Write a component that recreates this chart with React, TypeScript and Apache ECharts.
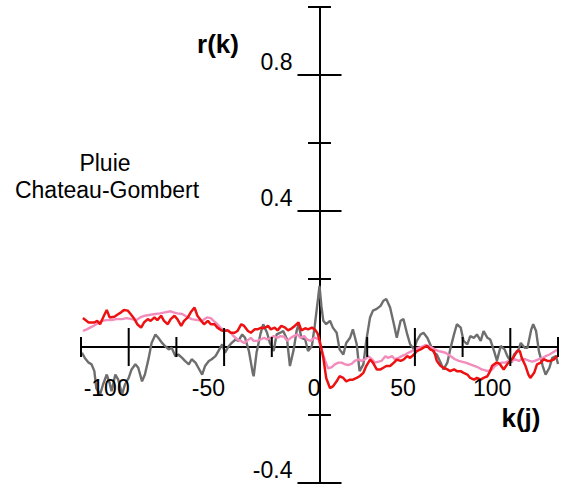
import React, { useEffect, useRef } from 'react';
import * as echarts from 'echarts';

const FONT = '"Liberation Sans", Arial, sans-serif';

// Axis ranges and ticks
const lagMin = -125;
const lagMax = 125;
const corrMin = -0.4;
const corrMax = 1.0;
const xTickLabels = [-100, -50, 0, 50, 100];
const yTickLabels = [0.8, 0.4, -0.4];
const xMajorTicks = [-100, -50, 50, 100];
const xMinorTicks = [-125, -75, -25, 25, 75, 125];
const yMajorTicks = [0.8, 0.4, -0.4];
const yMinorTicks = [1.0, 0.6, 0.2, -0.2];

const yTitle = 'r(k)';
const xTitle = 'k(j)';
const noteLines = ['Pluie', 'Chateau-Gombert'];

// [lag k, correlation r]
const redSeries = [
  [-124, 0.085], [-121, 0.072], [-118, 0.072], [-116.5, 0.077], [-115, 0.067], [-113, 0.092], [-111.5, 0.109],
  [-110, 0.087], [-107.5, 0.089], [-106, 0.095], [-104, 0.102], [-102.5, 0.109], [-100.5, 0.107], [-99, 0.097],
  [-97, 0.082], [-95.5, 0.067], [-93.5, 0.057], [-92, 0.072], [-90, 0.082], [-88.5, 0.077], [-86.5, 0.087],
  [-85, 0.079], [-83, 0.092], [-81.5, 0.077], [-79.5, 0.067], [-78, 0.082], [-76, 0.092], [-74.5, 0.082],
  [-72.5, 0.062], [-71, 0.077], [-69, 0.087], [-67.5, 0.102], [-65.5, 0.116], [-64, 0.092], [-62, 0.077],
  [-60.5, 0.067], [-58.5, 0.077], [-57, 0.067], [-55, 0.067], [-53.5, 0.057], [-51.5, 0.049], [-50, 0.047],
  [-48, 0.049], [-46.5, 0.042], [-44.5, 0.042], [-43, 0.047], [-41, 0.067], [-39.5, 0.062], [-37.5, 0.047],
  [-36, 0.042], [-34, 0.052], [-32.5, 0.052], [-30.5, 0.057], [-29, 0.055], [-27, 0.062], [-25.5, 0.052],
  [-23.5, 0.057], [-22, 0.049], [-20, 0.062], [-18, 0.057], [-16.5, 0.049], [-14.5, 0.055], [-13, 0.062],
  [-11, 0.072], [-9.5, 0.049], [-7.5, 0.055], [-6, 0.052], [-4, 0.057], [-2.5, 0.052], [-1, 0.04], [0, 0.02],
  [1, -0.005], [2, -0.032], [3.5, -0.091], [5.5, -0.121], [7, -0.116], [9, -0.101], [10.5, -0.086],
  [12.5, -0.091], [14, -0.101], [16, -0.096], [17.5, -0.096], [19.5, -0.091], [21, -0.086], [23, -0.076],
  [24.5, -0.056], [26.5, -0.037], [28, -0.046], [30, -0.066], [32, -0.066], [33.5, -0.061], [35, -0.056],
  [37, -0.056], [39, -0.046], [40.5, -0.037], [42.5, -0.041], [44, -0.037], [46, -0.027], [47.5, -0.032],
  [49.5, -0.022], [51, -0.012], [53, -0.007], [54.5, -0.002], [56.5, 0.003], [58, -0.007], [60, -0.012],
  [61.5, -0.041], [63.5, -0.056], [65, -0.061], [67, -0.066], [68.5, -0.071], [70.5, -0.066], [72, -0.071],
  [74, -0.071], [75.5, -0.076], [77.5, -0.081], [79, -0.091], [81, -0.096], [82.5, -0.091], [84.5, -0.096],
  [86, -0.091], [88, -0.086], [89.5, -0.07], [90.5, -0.055], [93, -0.045], [94.5, -0.05], [96.5, -0.066],
  [98.5, -0.05], [100, -0.041], [101.5, -0.032], [103.5, -0.012], [105, -0.012], [106, -0.032], [108, -0.056],
  [109.5, -0.081], [110.5, -0.091], [112.5, -0.076], [114, -0.051], [116, -0.046], [117.5, -0.036],
  [119.5, -0.041], [121, -0.041], [123, -0.036], [124.5, -0.027], [125, -0.03],
];

const pinkSeries = [
  [-124, 0.047], [-122, 0.052], [-119.5, 0.059], [-117, 0.067], [-114, 0.077], [-111.5, 0.079], [-109, 0.079],
  [-106.5, 0.082], [-103.5, 0.082], [-101, 0.085], [-98.5, 0.082], [-96, 0.079], [-94, 0.087], [-91.5, 0.092],
  [-88.5, 0.095], [-86, 0.097], [-83.5, 0.099], [-81, 0.102], [-78, 0.105], [-76.5, 0.102], [-74.5, 0.099],
  [-72, 0.097], [-69.5, 0.089], [-67, 0.082], [-64, 0.079], [-61.5, 0.077], [-59, 0.087], [-57, 0.085],
  [-55.5, 0.077], [-53.5, 0.067], [-52, 0.057], [-50, 0.049], [-48.5, 0.049], [-46.5, 0.042], [-45, 0.032],
  [-43, 0.022], [-41.5, 0.019], [-39.5, 0.012], [-38, 0.018], [-36, 0.027], [-34.5, 0.018], [-32.5, 0.018],
  [-31, 0.022], [-29, 0.027], [-27.5, 0.022], [-25.5, 0.027], [-24, 0.032], [-22, 0.027], [-20.5, 0.032],
  [-18.5, 0.03], [-17, 0.018], [-15, 0.027], [-13.5, 0.032], [-11.5, 0.037], [-10, 0.027], [-8, 0.032],
  [-6.5, 0.022], [-4.5, 0.018], [-2.5, 0.028], [-0.5, 0.022], [1, -0.007], [3, -0.041], [4.5, -0.063],
  [6.5, -0.059], [8, -0.051], [10, -0.046], [11.5, -0.046], [13.5, -0.051], [15, -0.053], [17, -0.049],
  [18.5, -0.041], [20.5, -0.036], [22, -0.041], [24, -0.036], [25.5, -0.027], [27.5, -0.036], [29, -0.046],
  [31, -0.043], [32.5, -0.041], [34.5, -0.027], [36, -0.032], [38, -0.027], [39.5, -0.036], [41.5, -0.032],
  [43, -0.027], [45, -0.022], [46.5, -0.017], [48.5, -0.012], [50, -0.007], [52, -0.002], [53.5, 0],
  [55.5, 0.006], [57, 0.003], [59, -0.002], [60.5, -0.007], [62.5, -0.012], [64, -0.014], [66, -0.017],
  [67.5, -0.022], [69.5, -0.03], [71, -0.036], [73, -0.041], [74.5, -0.043], [76.5, -0.046], [78, -0.049],
  [80, -0.053], [81.5, -0.056], [83.5, -0.061], [85, -0.066], [87, -0.069], [88.5, -0.071], [90.5, -0.066],
  [92, -0.056], [94, -0.049], [95.5, -0.046], [97.5, -0.046], [99, -0.041], [101, -0.041], [102.5, -0.036],
  [104.5, -0.041], [106, -0.036], [108, -0.036], [110, -0.041], [111.5, -0.043], [113.5, -0.039], [115, -0.036],
  [117, -0.032], [118.5, -0.027], [120.5, -0.022], [122, -0.017], [124, -0.01], [125, -0.007],
];

const graySeries = [
  [-124.5, -0.017], [-123, -0.032], [-121, -0.046], [-119.5, -0.051], [-118, -0.071], [-117, -0.121],
  [-115, -0.14], [-113.5, -0.111], [-111.5, -0.081], [-110, -0.106], [-109, -0.13], [-107, -0.081],
  [-105.5, -0.096], [-103.5, -0.14], [-102, -0.111], [-100, -0.091], [-98.5, -0.066], [-96.5, -0.051],
  [-95, -0.061], [-93, -0.101], [-91.5, -0.081], [-89.5, -0.032], [-88, 0.012], [-86, 0.037], [-84.5, 0.027],
  [-82.5, 0.012], [-81, 0.003], [-79, -0.007], [-77.5, -0.002], [-75.5, -0.027], [-74, -0.022], [-72, -0.032],
  [-70.5, -0.041], [-68.5, -0.051], [-67, -0.036], [-65, -0.046], [-63.5, -0.061], [-61.5, -0.081], [-60, -0.056],
  [-58, -0.041], [-56.5, -0.036], [-54.5, -0.027], [-53, -0.012], [-51, 0.008], [-49.5, -0.017], [-47.5, 0.003],
  [-46, 0.012], [-44, 0.022], [-42.5, 0.018], [-40.5, 0.037], [-39, 0.027], [-37, -0.012], [-35, -0.076],
  [-34.5, -0.086], [-33, -0.017], [-31, 0.037], [-29.5, 0.067], [-27.5, 0.042], [-26, 0.012], [-24, -0.012],
  [-22.5, 0.037], [-20.5, 0.042], [-19, 0.047], [-17, 0.022], [-15.5, -0.056], [-13.5, -0.007], [-12, 0.047],
  [-11, 0.067], [-9.5, 0.027], [-7.5, 0.022], [-6, -0.012], [-4, 0.003], [-2.5, 0.062], [-1, 0.131], [0, 0.18],
  [1, 0.12], [2, 0.077], [3.5, 0.067], [5.5, 0.077], [7, 0.057], [9, 0.042], [10.5, -0.007], [12.5, -0.022],
  [14, 0.012], [16, 0.027], [17.5, 0.052], [19.5, 0.008], [21, -0.071], [23, -0.051], [24.5, 0.018],
  [26.5, 0.087], [28, 0.107], [30, 0.112], [32, 0.121], [33.5, 0.136], [35, 0.141], [37, 0.116], [39, 0.067],
  [40.5, 0.027], [42.5, 0.077], [44, 0.082], [46, 0.037], [47.5, 0.008], [49.5, -0.007], [51, 0.018],
  [53, 0.037], [54.5, 0.042], [56.5, 0.027], [58, 0.008], [60, -0.017], [61.5, -0.022], [63.5, -0.046],
  [65, -0.066], [67, -0.046], [68.5, -0.007], [70.5, 0.037], [72, 0.067], [74, 0.057], [75.5, 0.018],
  [77.5, 0.008], [79, 0.032], [81, 0.027], [82.5, 0.037], [84.5, 0.018], [86, 0.047], [88, 0.027], [89.5, 0.022],
  [91.5, -0.012], [93, -0.04], [95, 0.003], [97, -0.007], [98.5, -0.027], [100.5, -0.046], [102, -0.022],
  [104, -0.012], [105.5, 0.012], [107.5, -0.002], [109, -0.002], [111, 0.052], [112, 0.067], [113.5, 0.047],
  [115, -0.012], [117, -0.056], [118.5, -0.081], [120.5, -0.061], [122, -0.032], [124, -0.027], [125, -0.05],
];

type Tick = { dir: 'x' | 'y'; v: number; half: number };
type TickLabel = { dir: 'x' | 'y'; v: number };

export default function App() {
  const ref = useRef<HTMLDivElement>(null);

  useEffect(() => {
    if (!ref.current) return;
    const chart = echarts.init(ref.current, undefined, { renderer: 'svg' });

    const ticks: Tick[] = [
      ...xMajorTicks.map((v) => ({ dir: 'x' as const, v, half: 19 })),
      ...xMinorTicks.map((v) => ({ dir: 'x' as const, v, half: 10 })),
      ...yMajorTicks.map((v) => ({ dir: 'y' as const, v, half: 22 })),
      ...yMinorTicks.map((v) => ({ dir: 'y' as const, v, half: 11.5 })),
    ];

    const labels: TickLabel[] = [
      ...xTickLabels.map((v) => ({ dir: 'x' as const, v })),
      ...yTickLabels.map((v) => ({ dir: 'y' as const, v })),
    ];

    const labelText = (v: number) => String(Number(v.toFixed(1)));

    chart.setOption({
      animation: false,
      backgroundColor: '#ffffff',
      grid: {
        left: 81,
        right: 3,
        top: 7,
        bottom: 5,
        containLabel: false,
        outerBoundsMode: 'none',
      },
      xAxis: {
        type: 'value',
        min: lagMin,
        max: lagMax,
        interval: 25,
        axisLine: { onZero: true, lineStyle: { color: '#000', width: 2 } },
        axisTick: { show: false },
        splitLine: { show: false },
        axisLabel: { show: false },
      },
      yAxis: {
        type: 'value',
        min: corrMin,
        max: corrMax,
        interval: 0.2,
        axisLine: { onZero: true, lineStyle: { color: '#000', width: 2 } },
        axisTick: { show: false },
        splitLine: { show: false },
        axisLabel: { show: false },
      },
      series: [
        {
          type: 'line',
          name: 'gray',
          data: graySeries,
          showSymbol: false,
          lineStyle: { color: '#6e6e6e', width: 2.4 },
          z: 2,
        },
        {
          type: 'line',
          name: 'pink',
          data: pinkSeries,
          showSymbol: false,
          lineStyle: { color: '#f28cbc', width: 2.4 },
          z: 3,
        },
        {
          type: 'line',
          name: 'red',
          data: redSeries,
          showSymbol: false,
          lineStyle: { color: '#ee1111', width: 2.5 },
          z: 4,
        },
        {
          type: 'custom',
          name: 'ticks',
          data: ticks.map((t) => (t.dir === 'x' ? [t.v, 0] : [0, t.v])),
          clip: false,
          z: 5,
          renderItem: (params: any, api: any) => {
            const t = ticks[params.dataIndex];
            const p = api.coord([api.value(0), api.value(1)]);
            const shape =
              t.dir === 'x'
                ? { x1: p[0], y1: p[1] - t.half, x2: p[0], y2: p[1] + t.half }
                : { x1: p[0] - t.half, y1: p[1], x2: p[0] + t.half, y2: p[1] };
            return { type: 'line', shape, style: { stroke: '#000', lineWidth: 2 } };
          },
        },
        {
          type: 'custom',
          name: 'tickLabels',
          data: labels.map((l) => (l.dir === 'x' ? [l.v, 0] : [0, l.v])),
          clip: false,
          z: 6,
          renderItem: (params: any, api: any) => {
            const l = labels[params.dataIndex];
            const p = api.coord([api.value(0), api.value(1)]);
            const isX = l.dir === 'x';
            return {
              type: 'text',
              x: isX ? p[0] + 1 : p[0] - 27,
              y: isX ? p[1] + 41 : p[1] - 13,
              style: {
                text: labelText(l.v),
                fontSize: 23,
                fontFamily: FONT,
                fill: '#000',
                align: 'right',
                verticalAlign: 'middle',
              },
            };
          },
        },
      ],
      graphic: [
        {
          type: 'text',
          x: 218,
          y: 44,
          style: {
            text: yTitle,
            fontSize: 26,
            fontWeight: 'bold',
            fontFamily: FONT,
            fill: '#000',
            align: 'center',
            verticalAlign: 'middle',
          },
        },
        {
          type: 'text',
          x: 521,
          y: 418,
          style: {
            text: xTitle,
            fontSize: 26,
            fontWeight: 'bold',
            fontFamily: FONT,
            fill: '#000',
            align: 'center',
            verticalAlign: 'middle',
          },
        },
        {
          type: 'text',
          x: 105,
          y: 163,
          style: {
            text: noteLines[0],
            fontSize: 23,
            fontFamily: FONT,
            fill: '#000',
            align: 'center',
            verticalAlign: 'middle',
          },
        },
        {
          type: 'text',
          x: 107,
          y: 190,
          style: {
            text: noteLines[1],
            fontSize: 23,
            fontFamily: FONT,
            fill: '#000',
            align: 'center',
            verticalAlign: 'middle',
          },
        },
      ],
    });

    return () => chart.dispose();
  }, []);

  return (
    <div
      ref={ref}
      style={{ position: 'absolute', left: 0, top: 0, width: 561, height: 488, background: '#fff' }}
    />
  );
}
